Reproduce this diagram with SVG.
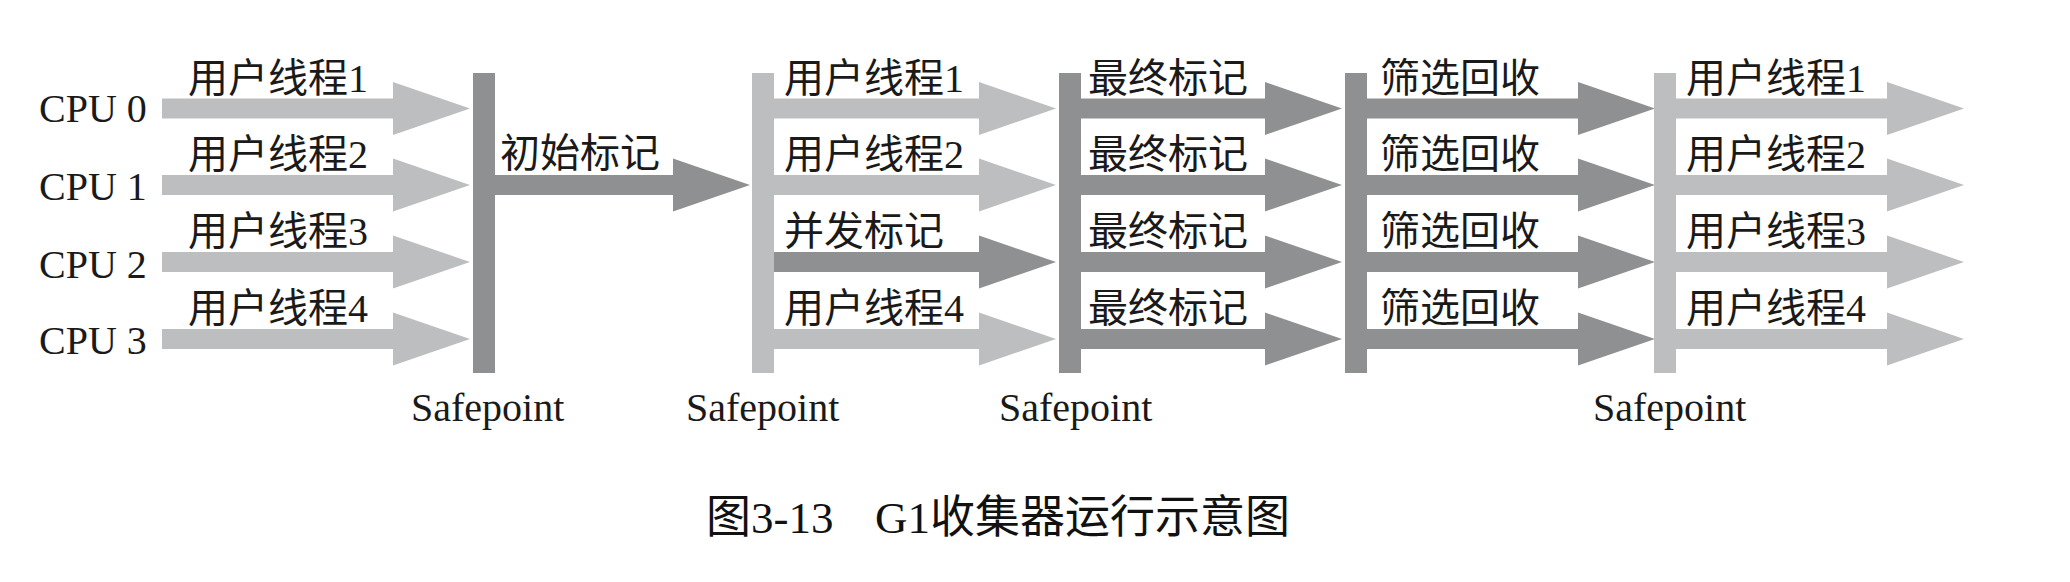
<svg xmlns="http://www.w3.org/2000/svg" width="2070" height="582" viewBox="0 0 2070 582">
<style>
.bg{fill:#ffffff}
.lt{fill:#bdbec0}
.dk{fill:#8f9092}
.t{font-family:"Liberation Serif","Noto Sans CJK SC",serif;font-size:40px;fill:#1a1a1a}
.cap{font-family:"Liberation Serif","Noto Sans CJK SC",serif;font-size:45px;fill:#111111}
</style>
<rect class="bg" x="0" y="0" width="2070" height="582"/>
<g id="connectors">
  <!-- column 1: user threads -->
  <path class="lt" d="M162 98.5H393V82L470 108.5L393 135V118.5H162Z"/>
  <path class="lt" d="M162 175H393V158.5L470 185L393 211.5V195H162Z"/>
  <path class="lt" d="M162 252H393V235.5L470 262L393 288.5V272H162Z"/>
  <path class="lt" d="M162 329H393V312.5L470 339L393 365.5V349H162Z"/>
  <!-- initial mark -->
  <path class="dk" d="M495 175H673V158.5L750 185L673 211.5V195H495Z"/>
  <!-- column 2 -->
  <path class="lt" d="M774 98.5H979V82L1056 108.5L979 135V118.5H774Z"/>
  <path class="lt" d="M774 175H979V158.5L1056 185L979 211.5V195H774Z"/>
  <path class="dk" d="M774 252H979V235.5L1056 262L979 288.5V272H774Z"/>
  <path class="lt" d="M774 329H979V312.5L1056 339L979 365.5V349H774Z"/>
  <!-- column 3: final mark -->
  <path class="dk" d="M1081 98.5H1265V82L1342 108.5L1265 135V118.5H1081Z"/>
  <path class="dk" d="M1081 175H1265V158.5L1342 185L1265 211.5V195H1081Z"/>
  <path class="dk" d="M1081 252H1265V235.5L1342 262L1265 288.5V272H1081Z"/>
  <path class="dk" d="M1081 329H1265V312.5L1342 339L1265 365.5V349H1081Z"/>
  <!-- column 4: live data counting and evacuation -->
  <path class="dk" d="M1367 98.5H1578V82L1655 108.5L1578 135V118.5H1367Z"/>
  <path class="dk" d="M1367 175H1578V158.5L1655 185L1578 211.5V195H1367Z"/>
  <path class="dk" d="M1367 252H1578V235.5L1655 262L1578 288.5V272H1367Z"/>
  <path class="dk" d="M1367 329H1578V312.5L1655 339L1578 365.5V349H1367Z"/>
  <!-- column 5 -->
  <path class="lt" d="M1676 98.5H1887V82L1964 108.5L1887 135V118.5H1676Z"/>
  <path class="lt" d="M1676 175H1887V158.5L1964 185L1887 211.5V195H1676Z"/>
  <path class="lt" d="M1676 252H1887V235.5L1964 262L1887 288.5V272H1676Z"/>
  <path class="lt" d="M1676 329H1887V312.5L1964 339L1887 365.5V349H1676Z"/>
</g>
<g id="cpu0"><text class="t" x="39" y="122">CPU 0</text></g>
<g id="cpu1"><text class="t" x="39" y="200">CPU 1</text></g>
<g id="cpu2"><text class="t" x="39" y="278">CPU 2</text></g>
<g id="cpu3"><text class="t" x="39" y="354">CPU 3</text></g>
<g id="safepoint1"><rect class="dk" x="473" y="73" width="22" height="300"/><text class="t" x="411" y="421">Safepoint</text></g>
<g id="safepoint2"><rect class="lt" x="752" y="73" width="22" height="300"/><text class="t" x="686" y="421">Safepoint</text></g>
<g id="safepoint3"><rect class="dk" x="1059" y="73" width="22" height="300"/><text class="t" x="999" y="421">Safepoint</text></g>
<g id="safepoint4"><rect class="dk" x="1345" y="73" width="22" height="300"/></g>
<g id="safepoint5"><rect class="lt" x="1654" y="73" width="22" height="300"/><text class="t" x="1593" y="421">Safepoint</text></g>
<g id="col1-labels">
  <text class="t" x="188" y="92">用户线程1</text>
  <text class="t" x="188" y="168">用户线程2</text>
  <text class="t" x="188" y="245">用户线程3</text>
  <text class="t" x="188" y="322">用户线程4</text>
</g>
<g id="initial-mark"><text class="t" x="500" y="167">初始标记</text></g>
<g id="col2-labels">
  <text class="t" x="784" y="92">用户线程1</text>
  <text class="t" x="784" y="168">用户线程2</text>
  <text class="t" x="784" y="245">并发标记</text>
  <text class="t" x="784" y="322">用户线程4</text>
</g>
<g id="col3-labels">
  <text class="t" x="1088" y="92">最终标记</text>
  <text class="t" x="1088" y="168">最终标记</text>
  <text class="t" x="1088" y="245">最终标记</text>
  <text class="t" x="1088" y="322">最终标记</text>
</g>
<g id="col4-labels">
  <text class="t" x="1380" y="92">筛选回收</text>
  <text class="t" x="1380" y="168">筛选回收</text>
  <text class="t" x="1380" y="245">筛选回收</text>
  <text class="t" x="1380" y="322">筛选回收</text>
</g>
<g id="col5-labels">
  <text class="t" x="1686" y="92">用户线程1</text>
  <text class="t" x="1686" y="168">用户线程2</text>
  <text class="t" x="1686" y="245">用户线程3</text>
  <text class="t" x="1686" y="322">用户线程4</text>
</g>
<g id="caption">
  <text class="cap" y="533"><tspan x="706">图3-13</tspan><tspan x="875">G1收集器运行示意图</tspan></text>
</g>
</svg>
